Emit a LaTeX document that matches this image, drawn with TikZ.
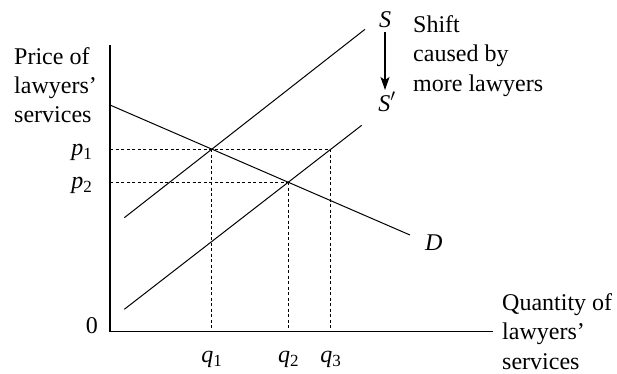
\documentclass[tikz,border=0pt]{standalone}
\usepackage{fontspec}
\setmainfont{Liberation Serif}
\usetikzlibrary{arrows.meta}
\newcommand\mvar[2]{\textit{#1}\raisebox{-0.4ex}{\fontsize{17}{17}\selectfont #2}}
\begin{document}
\begin{tikzpicture}[x=1pt,y=-1pt,
  font=\fontsize{24}{29.2}\selectfont,
  curve/.style={line width=1pt},
  axis/.style={line width=1.6pt},
  guide/.style={line width=0.8pt, dash pattern=on 3pt off 2.5pt},
  lbl/.style={inner sep=0pt},
  block/.style={inner sep=0pt, align=left}]
\useasboundingbox (0,0) rectangle (617,373);
% axes
\coordinate (O) at (110,331.5);
\coordinate (Ytop) at (110,45);
\coordinate (Xend) at (493,331.5);
\draw[axis] (Ytop) -- (O) -- (Xend);
% curves
\coordinate (D0) at (110,105);
\coordinate (D1) at (410,235);
\coordinate (S0) at (124.3,217.7);
\coordinate (S1) at (365,29.3);
\coordinate (T0) at (124.3,309.3);
\coordinate (T1) at (361.7,125.3);
\draw[curve] (D0) -- (D1);
\draw[curve] (S0) -- (S1);
\draw[curve] (T0) -- (T1);
% equilibrium points
\coordinate (E1) at (211.7,149);
\coordinate (E2) at (288.3,182);
\coordinate (E3) at (330.5,149);
\coordinate (P1) at (110,149);
\coordinate (P2) at (110,182);
\coordinate (Q1) at (211.7,331.5);
\coordinate (Q2) at (288.3,331.5);
\coordinate (Q3) at (330.5,331.5);
\draw[guide] (P1) -- (E3);
\draw[guide] (P2) -- (E2);
\draw[guide] (E1) -- (Q1);
\draw[guide] (E2) -- (Q2);
\draw[guide] (E3) -- (Q3);
% labels
\node[lbl, anchor=base east] (p1) at (92,155) {\mvar{p}{1}};
\node[lbl, anchor=base east] (p2) at (92,188) {\mvar{p}{2}};
\node[lbl, anchor=base east] (zero) at (98,333) {0};
\node[lbl, anchor=base] (q1) at (211.7,362) {\mvar{q}{1}};
\node[lbl, anchor=base] (q2) at (288.3,362) {\mvar{q}{2}};
\node[lbl, anchor=base] (q3) at (330.5,362) {\mvar{q}{3}};
\node[lbl, anchor=base] (S) at (385,27) {\textit{S}};
\node[lbl, anchor=base] (Sp) at (387,111) {\textit{S}$'$};
\node[lbl, anchor=base west] (D) at (425,250) {\textit{D}};
\coordinate (A0) at (385,32);
\coordinate (A1) at (385,90);
\draw[line width=1.4pt, -{Stealth[length=13pt,width=9pt,inset=3pt]}] (A0) -- (A1);
\node[block, anchor=north west] (ylab) at (14,47) {Price of\\lawyers’\\services};
\node[block, anchor=north west] (shift) at (413,15.5) {Shift\\caused by\\more lawyers};
\node[block, anchor=north west] (xlab) at (502,293.5) {Quantity of\\lawyers’\\services};
\end{tikzpicture}
\end{document}
